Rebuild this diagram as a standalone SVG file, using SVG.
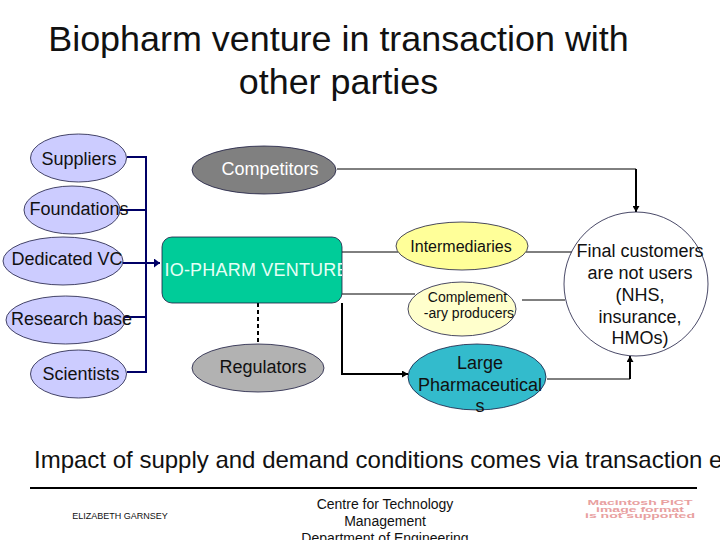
<svg xmlns="http://www.w3.org/2000/svg" width="720" height="540" viewBox="0 0 720 540">
<style>
text{font-family:"Liberation Sans",Arial,sans-serif;fill:#111;text-anchor:middle}
.e{stroke:#1a1a40;stroke-width:.8}
.lav{fill:#ccccff}
.n{font-size:18px}
.navy{fill:none;stroke:#000066;stroke-width:2}
.k{fill:none;stroke:#000;stroke-width:1}
.kb{fill:none;stroke:#000;stroke-width:2}
.pict{font-size:7px;fill:#e8a0a0;font-weight:bold}
</style>
<defs>
<marker id="a" markerWidth="7" markerHeight="7" refX="6" refY="3.5" orient="auto" markerUnits="userSpaceOnUse"><path d="M0 0L6 3.5L0 7Z" fill="#000"/></marker>
<marker id="b" markerWidth="7" markerHeight="9" refX="6" refY="4.5" orient="auto" markerUnits="userSpaceOnUse"><path d="M0 0L6 4.5L0 9Z" fill="#000066"/></marker>
<clipPath id="vc"><rect x="164" y="237" width="178" height="66"/></clipPath>
</defs>
<rect width="720" height="540" fill="#fff"/>
<g id="title"><text x="338.500" y="51" font-size="35.900">Biopharm venture in transaction with</text><text x="338.500" y="94" font-size="35.900">other parties</text></g>
<g id="connectors">
<path class="navy" d="M127 157H146V372H127M119 210H146M125 317H146"/>
<path class="navy" d="M123 263H160" marker-end="url(#b)"/>
<path class="k" d="M337 169H636"/>
<path class="kb" d="M636 169V212" marker-end="url(#a)"/>
<path class="k" d="M342 252H398M526 252H572M342 294H415M522 300H565"/>
<path class="kb" d="M342 303V374H408" marker-end="url(#a)"/>
<path class="k" d="M547 379H630"/>
<path class="kb" d="M630 379V356" marker-end="url(#a)"/>
<path d="M258 303V344" fill="none" stroke="#000" stroke-width="2" stroke-dasharray="4 3"/>
</g>
<g id="suppliers"><ellipse class="e lav" cx="78.500" cy="158" rx="48" ry="24"/><text class="n" x="79" y="165">Suppliers</text></g>
<g id="foundations"><ellipse class="e lav" cx="72" cy="210" rx="48" ry="24"/><text class="n" x="79" y="215">Foundations</text></g>
<g id="dedicated-vc"><ellipse class="e lav" cx="63" cy="261" rx="60" ry="24"/><text class="n" x="67" y="265">Dedicated VC</text></g>
<g id="research-base"><ellipse class="e lav" cx="65.500" cy="320" rx="59.500" ry="24"/><text class="n" x="71.500" y="325">Research base</text></g>
<g id="scientists"><ellipse class="e lav" cx="78.500" cy="374" rx="48" ry="24"/><text class="n" x="81" y="380">Scientists</text></g>
<g id="competitors"><ellipse class="e" cx="264" cy="170" rx="72" ry="24" fill="#808080"/><text class="n" x="270" y="175" style="fill:#fff">Competitors</text></g>
<g id="regulators"><ellipse class="e" cx="258" cy="368" rx="66" ry="24" fill="#b2b2b2"/><text class="n" x="263" y="373">Regulators</text></g>
<g id="venture"><rect class="e" x="162" y="237" width="180" height="66" rx="10" fill="#00cc99"/><text clip-path="url(#vc)" x="250.500" y="276" font-size="18" letter-spacing="0.200" style="fill:#e6fff6">BIO-PHARM VENTURE</text></g>
<g id="intermediaries"><ellipse class="e" cx="462" cy="246" rx="66" ry="24" fill="#ffff99"/><text x="461" y="252" font-size="16">Intermediaries</text></g>
<g id="complementary"><ellipse class="e" cx="462" cy="309" rx="54" ry="27" fill="#ffffcc"/><text x="467.500" y="302" font-size="14">Complement</text><text x="469" y="318" font-size="14">-ary producers</text></g>
<g id="large-pharma"><ellipse class="e" cx="477" cy="377" rx="69" ry="33" fill="#33bbcc"/><text x="480" y="369" font-size="18">Large</text><text x="480" y="391" font-size="18">Pharmaceutical</text><text x="480" y="412" font-size="18">s</text></g>
<g id="final-customers"><circle class="e" cx="636" cy="284" r="72" fill="#fff"/><text x="640" y="257" font-size="18">Final customers</text><text x="640" y="279" font-size="18">are not users</text><text x="640" y="301" font-size="18">(NHS,</text><text x="640" y="323" font-size="18">insurance,</text><text x="640" y="344" font-size="18">HMOs)</text></g>
<g id="footer"><text x="34" y="468" font-size="24" style="text-anchor:start">Impact of supply and demand conditions comes via transaction e</text>
<path d="M30 488H697" stroke="#000" stroke-width="2"/>
<text x="120" y="519" font-size="9">ELIZABETH GARNSEY</text>
<text x="385" y="509" font-size="14">Centre for Technology</text><text x="385" y="526" font-size="14">Management</text><text x="385" y="543" font-size="14">Department of Engineering</text>
<text class="pict" x="640" y="505" textLength="105" lengthAdjust="spacingAndGlyphs">Macintosh PICT</text><text class="pict" x="640" y="511.500" textLength="88" lengthAdjust="spacingAndGlyphs">image format</text><text class="pict" x="640" y="518" textLength="110" lengthAdjust="spacingAndGlyphs">is not supported</text></g>
</svg>
